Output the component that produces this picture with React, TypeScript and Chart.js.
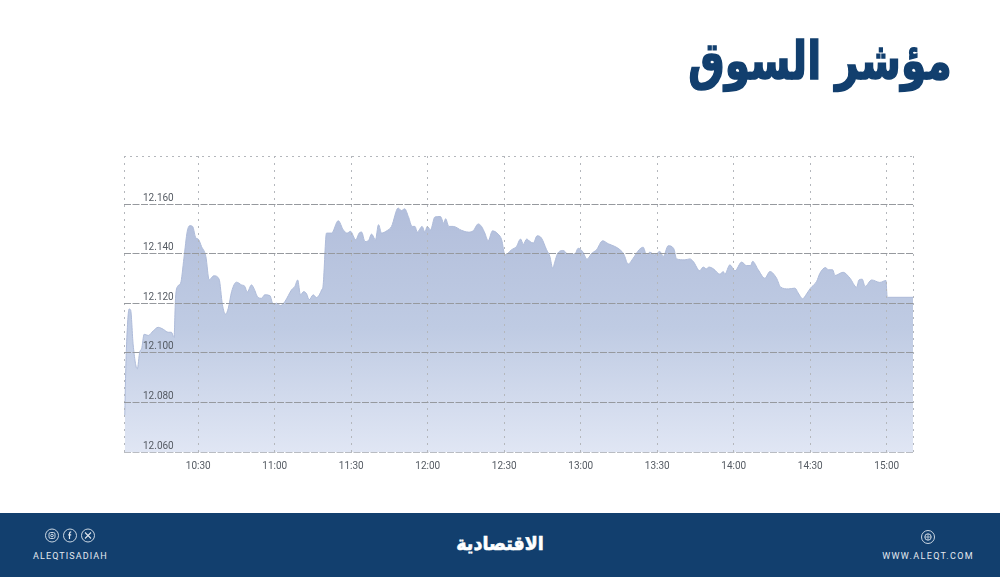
import React, { useEffect, useRef } from "react";
import { Chart, registerables } from "chart.js";

Chart.register(...registerables);

const titleText = "مؤشر السوق";
const brandText = "الاقتصادية";
const handleText = "ALEQTISADIAH";
const siteText = "WWW.ALEQT.COM";
const halfHourTicks = [630, 660, 690, 720, 750, 780, 810, 840, 870, 900];

const minutes = [
  601.2, 601.5, 601.9, 602.9, 603.5, 604.5, 606.1, 607.1, 607.8, 608.8, 610.4, 612.4, 614.3, 616.3, 618.2, 619.5,
  620.5, 621.1, 621.9, 623.1, 624.4, 625.7, 626.7, 627.8, 629.1, 630, 631.3, 633, 634.3, 636.1, 638.2, 639.5,
  640.7, 641.8, 643.1, 645, 647, 648.3, 649.2, 650.9, 651.8, 653.5, 654.8, 656.1, 658.1, 659.4, 660.7, 662.3,
  664, 666.6, 667.9, 669, 670.1, 671.4, 672.5, 673.5, 675.1, 676.4, 678.4, 679, 680.3, 682.3, 684.9, 686.9,
  688.4, 689.7, 691.8, 693.1, 694.1, 695.4, 696.7, 698, 699.5, 700.7, 701.9, 703.9, 705.8, 708.4, 709.7, 711,
  712.4, 713.9, 715, 715.9, 717.8, 718.9, 719.8, 721.1, 722.8, 725, 726.3, 727, 728.3, 730, 733.3, 735.9,
  737.8, 739.8, 741.1, 742.4, 743.7, 745.4, 747.6, 749, 750.3, 752.9, 754.8, 756.4, 757.5, 758.8, 760.1, 761.4,
  762.9, 764.6, 766.6, 767.9, 769, 769.9, 770.8, 773.1, 775.1, 777.7, 779, 780.7, 782.5, 784.2, 786.2, 788.6,
  790.8, 793.4, 795.4, 796.9, 798.6, 800.6, 802.9, 804.5, 805.8, 807.1, 809.1, 811, 812.4, 814.3, 816.5, 817.6,
  820.8, 822.8, 824.1, 826.7, 828, 829.3, 830.3, 832, 834.6, 835.9, 836.5, 838.5, 840.5, 843.1, 845, 846.6,
  847.4, 849.6, 852.2, 854.2, 856.8, 858.4, 861.4, 864, 865.3, 867, 868.6, 870.1, 872.5, 873.8, 876, 877.1,
  878.8, 879.7, 882.9, 885.6, 888.2, 889.1, 890.4, 891.5, 894.1, 897.3, 899.7, 900.2, 910.3,
];

const indexValues = [
  12074.9, 12089.7, 12103.2, 12117.7, 12117.3, 12103.2, 12093.5, 12100.5, 12101.6, 12107.5, 12107, 12108.9, 12110.3, 12109.5, 12108.3, 12108.3,
  12106.2, 12122, 12126.8, 12128.1, 12138.2, 12149, 12151.3, 12151, 12146.3, 12145.9, 12142.9, 12138.9, 12129.4, 12131.1, 12129.7, 12119.4,
  12115.6, 12118, 12124.7, 12128.5, 12127.4, 12126.8, 12124.5, 12127.4, 12126.1, 12122.3, 12122, 12123.4, 12123.1, 12119.6, 12120, 12119.1,
  12120.7, 12125.4, 12126.8, 12129.4, 12123.4, 12124.7, 12123.8, 12121.4, 12123.4, 12122.3, 12125.4, 12127.4, 12148.3, 12148.3, 12153.3, 12149.6,
  12148.3, 12149, 12145.6, 12148.3, 12148.7, 12144.9, 12145.2, 12147.9, 12145.6, 12151.7, 12148.3, 12149.2, 12151, 12158.4, 12157.4, 12158.1,
  12155, 12151, 12151, 12148.7, 12151, 12148.7, 12151, 12149.6, 12154.8, 12155, 12152.3, 12154.1, 12151, 12151, 12149.4, 12148.7,
  12149.2, 12152, 12151, 12148.3, 12145.2, 12149.2, 12147.9, 12145.6, 12139.5, 12141.6, 12142.9, 12145.9, 12143.8, 12145.9, 12144.9, 12144.3,
  12147.2, 12146.3, 12141.6, 12138.9, 12134.2, 12136.9, 12139.8, 12141.3, 12139.8, 12139.8, 12142.2, 12140.9, 12137.8, 12140, 12141.6, 12145.2,
  12144, 12142.9, 12141.6, 12139.8, 12135.8, 12138.2, 12141.6, 12142.6, 12139.5, 12140.6, 12139.5, 12140.9, 12138.9, 12143.2, 12142, 12137.9,
  12137.5, 12137.9, 12136.9, 12133.1, 12134.6, 12133.9, 12134.6, 12133.9, 12131.7, 12132.8, 12131.7, 12135.5, 12133.1, 12136.6, 12135.2, 12135.2,
  12136.9, 12133.5, 12130.1, 12132.8, 12130.1, 12126.5, 12125.8, 12126.1, 12124.1, 12121.8, 12123.8, 12126.1, 12128.8, 12132.1, 12134.4, 12133.5,
  12133.5, 12131.2, 12132.5, 12130.1, 12126.5, 12129.4, 12129.7, 12126.8, 12129.4, 12128.4, 12129.2, 12122.4, 12122.4,
];

const X_MIN = 600.9;
const X_MAX = 910.3;
const Y_MIN = 12060;
const Y_MAX = 12179.4;

const latin = "Roboto, 'Noto Sans', sans-serif";
const NAVY = "#123f6e";

const Ring = ({ x, y, r = 6.5, children }: { x: number; y: number; r?: number; children?: React.ReactNode }) => (
  <g transform={`translate(${x} ${y})`} stroke="#dfe6ee" strokeWidth={0.9} fill="none">
    <circle r={r} />
    {children}
  </g>
);

export default function App() {
  const ref = useRef<HTMLCanvasElement | null>(null);

  useEffect(() => {
    const canvas = ref.current;
    if (!canvas) return;
    const points = minutes.map((m, i) => ({ x: m, y: indexValues[i] }));
    const chart = new Chart(canvas, {
      type: "line",
      data: {
        datasets: [
          {
            data: points,
            parsing: false,
            fill: "start",
            cubicInterpolationMode: "monotone",
            pointRadius: 0,
            borderWidth: 1,
            borderColor: "#aebbd9",
            backgroundColor: (ctx: any) => {
              const area = ctx.chart.chartArea;
              if (!area) return "#b8c4df";
              const g = ctx.chart.ctx.createLinearGradient(0, 204, 0, area.bottom);
              g.addColorStop(0, "#b2bedb");
              g.addColorStop(0.5, "#bfcbe3");
              g.addColorStop(1, "#e0e6f4");
              return g;
            },
          },
        ],
      },
      options: {
        animation: false,
        responsive: false,
        layout: { padding: { left: 124, top: 156, right: 87, bottom: 0 } },
        plugins: { legend: { display: false }, tooltip: { enabled: false } },
        scales: {
          x: {
            type: "linear",
            min: X_MIN,
            max: X_MAX,
            afterBuildTicks: (s: any) => {
              s.ticks = [X_MIN, ...halfHourTicks, X_MAX].map((value) => ({ value }));
            },
            afterFit: (s: any) => {
              s.height = 125;
            },
            border: { display: false, dash: [2, 5] },
            grid: {
              z: 1,
              drawTicks: false,
              color: "#b4b7bc",
              lineWidth: 1,
            },
            ticks: {
              z: 2,
              autoSkip: false,
              maxRotation: 0,
              padding: 8,
              color: "#555b63",
              font: { family: latin, size: 10 },
              callback: (v: any) => {
                const n = Number(v);
                if (n % 30 !== 0) return "";
                return `${Math.floor(n / 60)}:${String(n % 60).padStart(2, "0")}`;
              },
            },
          },
          y: {
            type: "linear",
            min: Y_MIN,
            max: Y_MAX,
            afterFit: (s: any) => {
              s.width = 0;
            },
            border: {
              display: false,
              dash: (ctx: any) => (ctx.tick && ctx.tick.value > 12170 ? [2, 4] : [7, 1.5]),
            },
            grid: {
              z: 1,
              drawTicks: false,
              lineWidth: 1,
              color: (ctx: any) => {
                const v = ctx.tick ? ctx.tick.value : 0;
                if (v > 12170) return "#b4b7bc";
                if (v === Y_MIN) return "#b9bcc2";
                return "#96999e";
              },
            },
            ticks: {
              z: 2,
              stepSize: 20,
              autoSkip: false,
              mirror: true,
              padding: 19,
              labelOffset: -6,
              color: "#555b63",
              font: { family: latin, size: 10 },
              callback: (v: any) => {
                const n = Number(v);
                if (n % 20 !== 0) return "";
                return n.toLocaleString("en-US").replace(",", ".");
              },
            },
          },
        },
      },
    } as any);
    return () => chart.destroy();
  }, []);

  return (
    <div style={{ position: "fixed", left: 0, top: 0, width: 1000, height: 577, background: "#fff", overflow: "hidden" }}>
      <canvas ref={ref} width={1000} height={577} style={{ position: "absolute", left: 0, top: 0, width: 1000, height: 577 }} />
      <div
        dir="rtl"
        style={{
          position: "absolute",
          right: 48,
          top: 29,
          fontFamily: "'DejaVu Sans', sans-serif",
          fontWeight: 700,
          fontSize: 52,
          lineHeight: "64px",
          color: NAVY,
          whiteSpace: "nowrap",
          transform: "scaleX(0.785)",
          transformOrigin: "right center",
          WebkitTextStroke: "1.6px " + NAVY,
        }}
      >
        {titleText}
      </div>
      <div style={{ position: "absolute", left: 0, top: 513, width: 1000, height: 64, background: NAVY }} />
      <svg style={{ position: "absolute", left: 0, top: 513 }} width={1000} height={64}>
        <Ring x={52} y={22.5}>
          <rect x={-3} y={-3} width={6} height={6} rx={1.6} />
          <circle r={1.3} />
        </Ring>
        <Ring x={70} y={22.5}>
          <path d="M1.2 -3.6 C0 -3.6 -0.5 -3 -0.5 -1.8 V3.6 M-1.8 -0.6 H1.2" strokeWidth={1.2} />
        </Ring>
        <Ring x={88} y={22.5}>
          <path d="M-3 -3 L3 3 M3 -3 L-3 3" strokeWidth={1.1} />
        </Ring>
        <Ring x={928} y={24}>
          <circle r={3.2} />
          <path d="M-3.2 0 H3.2 M0 -3.2 V3.2" strokeWidth={0.7} />
        </Ring>
      </svg>
      <div
        style={{
          position: "absolute",
          left: 33,
          top: 550,
          fontFamily: latin,
          fontSize: 9,
          lineHeight: "12px",
          letterSpacing: 1.1,
          color: "#e3e9f0",
          whiteSpace: "nowrap",
        }}
      >
        {handleText}
      </div>
      <div
        style={{
          position: "absolute",
          right: 26,
          top: 550,
          fontFamily: latin,
          fontSize: 9,
          lineHeight: "12px",
          letterSpacing: 1.35,
          color: "#e3e9f0",
          whiteSpace: "nowrap",
        }}
      >
        {siteText}
      </div>
      <div
        dir="rtl"
        style={{
          position: "absolute",
          left: 400,
          width: 200,
          top: 527,
          textAlign: "center",
          fontFamily: "'DejaVu Sans', sans-serif",
          fontWeight: 700,
          fontSize: 19,
          lineHeight: "32px",
          color: "#fff",
          whiteSpace: "nowrap",
          transform: "scaleX(0.92)",
          WebkitTextStroke: "0.6px #fff",
        }}
      >
        {brandText}
      </div>
    </div>
  );
}
